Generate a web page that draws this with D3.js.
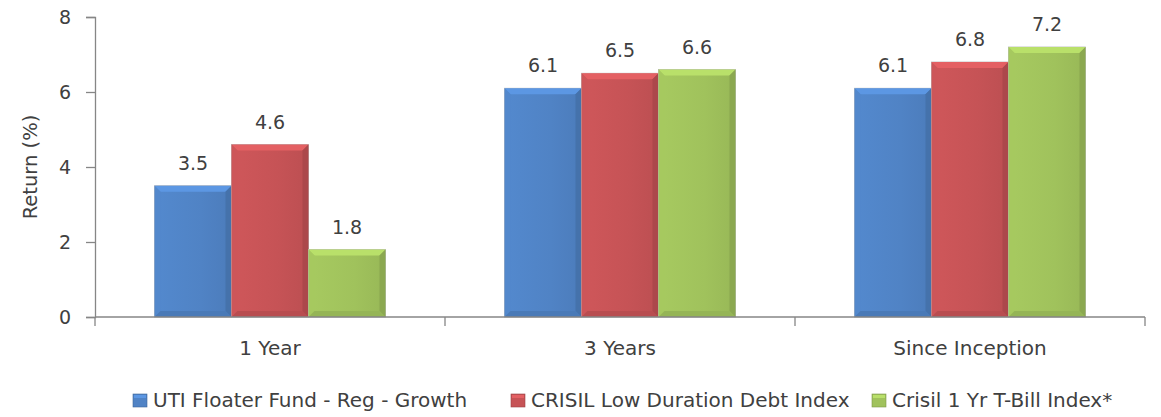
<!DOCTYPE html>
<html>
<head>
<meta charset="utf-8">
<script src="https://cdn.jsdelivr.net/npm/d3@7"></script>
<style>
  body { margin: 0; background: #fff; }
  svg text { font-family: "DejaVu Sans", "Liberation Sans", sans-serif; fill: #404040; }
</style>
</head>
<body>
<svg id="chart" width="1161" height="417"></svg>
<script>
const categories = ["1 Year", "3 Years", "Since Inception"];
const seriesNames = ["UTI Floater Fund - Reg - Growth", "CRISIL Low Duration Debt Index", "Crisil 1 Yr T-Bill Index*"];
const fundValues = [3.5, 6.1, 6.1];
const benchmarkValues = [4.6, 6.5, 6.8];
const tbillValues = [1.8, 6.6, 7.2];
const yTicks = [0, 2, 4, 6, 8];
const colors = ["#5083c5", "#c65356", "#a0c25c"];

const seriesValues = [fundValues, benchmarkValues, tbillValues];

const svg = d3.select("#chart");
const margin = { left: 95, right: 16, top: 17, bottom: 100 };
const width = 1161, height = 417;

const x0 = d3.scaleBand()
  .domain(categories)
  .range([margin.left, width - margin.right])
  .paddingInner(0)
  .paddingOuter(0);

const x1 = d3.scaleBand()
  .domain(d3.range(seriesNames.length))
  .range([0, x0.bandwidth()])
  .paddingInner(0)
  .paddingOuter(0.773);

const y = d3.scaleLinear()
  .domain([0, 8])
  .range([height - margin.bottom, margin.top]);

const defs = svg.append("defs");
colors.forEach((c, i) => {
  const g = defs.append("linearGradient").attr("id", "grad" + i)
    .attr("x1", 0).attr("x2", 1).attr("y1", 0).attr("y2", 0);
  g.append("stop").attr("offset", "0%").attr("stop-color", d3.color(c).brighter(0.12));
  g.append("stop").attr("offset", "60%").attr("stop-color", c);
  g.append("stop").attr("offset", "100%").attr("stop-color", d3.color(c).darker(0.15));
});

// y axis
const yAxis = svg.append("g")
  .attr("transform", `translate(${margin.left},0)`)
  .call(d3.axisLeft(y).tickValues(yTicks).tickSize(9).tickPadding(15));
yAxis.select(".domain").attr("stroke", "#868686").attr("stroke-width", 1.3);
yAxis.selectAll(".tick line").attr("stroke", "#868686").attr("stroke-width", 1.3);
yAxis.selectAll(".tick text").attr("font-size", 19).style("fill", "#404040");

svg.append("text")
  .attr("transform", `translate(37,${(y(0) + y(8)) / 2}) rotate(-90)`)
  .attr("text-anchor", "middle")
  .attr("font-size", 19.5)
  .text("Return (%)");

// bars
const bevel = 6;
const groups = svg.append("g").selectAll("g")
  .data(categories)
  .join("g")
  .attr("transform", d => `translate(${x0(d)},0)`);

groups.each(function (cat, ci) {
  const g = d3.select(this);
  seriesValues.forEach((vals, si) => {
    const v = vals[ci];
    const bx = x1(si), bw = x1.bandwidth();
    const by = y(v), bh = y(0) - y(v);
    const c = colors[si];
    const bar = g.append("g");
    bar.append("rect")
      .attr("x", bx).attr("y", by).attr("width", bw).attr("height", bh)
      .attr("fill", `url(#grad${si})`)
      .attr("stroke", "#b8b8b8").attr("stroke-width", 0.8);
    // top bevel
    bar.append("polygon")
      .attr("points", [[bx, by], [bx + bw, by], [bx + bw - bevel, by + bevel], [bx + bevel, by + bevel]].join(" "))
      .attr("fill", d3.color(c).brighter(0.4));
    // left bevel
    bar.append("polygon")
      .attr("points", [[bx, by], [bx + bevel, by + bevel], [bx + bevel, by + bh - bevel], [bx, by + bh]].join(" "))
      .attr("fill", d3.color(c).brighter(0.1));
    // right bevel
    bar.append("polygon")
      .attr("points", [[bx + bw, by], [bx + bw, by + bh], [bx + bw - bevel, by + bh - bevel], [bx + bw - bevel, by + bevel]].join(" "))
      .attr("fill", d3.color(c).darker(0.4));
    // bottom bevel
    bar.append("polygon")
      .attr("points", [[bx, by + bh], [bx + bw, by + bh], [bx + bw - bevel, by + bh - bevel], [bx + bevel, by + bh - bevel]].join(" "))
      .attr("fill", d3.color(c).darker(0.2));
    // value label
    g.append("text")
      .attr("x", bx + bw / 2)
      .attr("y", by - 16)
      .attr("text-anchor", "middle")
      .attr("font-size", 19)
      .text(d3.format(".1f")(v));
  });
});

// x axis
const xAxis = svg.append("g")
  .attr("transform", `translate(0,${y(0)})`);
xAxis.append("line")
  .attr("x1", margin.left).attr("x2", width - margin.right)
  .attr("stroke", "#868686").attr("stroke-width", 1.3);
const boundaries = categories.map(d => x0(d)).concat([x0(categories[categories.length - 1]) + x0.bandwidth()]);
xAxis.selectAll(".bt")
  .data(boundaries)
  .join("line")
  .attr("x1", d => d).attr("x2", d => d)
  .attr("y1", 0).attr("y2", 9)
  .attr("stroke", "#868686").attr("stroke-width", 1.3);
xAxis.selectAll(".cl")
  .data(categories)
  .join("text")
  .attr("x", d => x0(d) + x0.bandwidth() / 2)
  .attr("y", 38)
  .attr("text-anchor", "middle")
  .attr("font-size", 20)
  .text(d => d);

// legend
const legendX = [133, 511, 872];
const legend = svg.append("g");
seriesNames.forEach((name, i) => {
  const lg = legend.append("g").attr("transform", `translate(${legendX[i]},394)`);
  lg.append("rect").attr("width", 14).attr("height", 13)
    .attr("fill", colors[i]).attr("stroke", d3.color(colors[i]).darker(0.7)).attr("stroke-width", 0.6);
  lg.append("rect").attr("x", 1).attr("y", 1).attr("width", 12).attr("height", 3)
    .attr("fill", d3.color(colors[i]).brighter(0.4));
  lg.append("text")
    .attr("x", 20)
    .attr("y", 13)
    .attr("font-size", 20)
    .text(name);
});
</script>
</body>
</html>
